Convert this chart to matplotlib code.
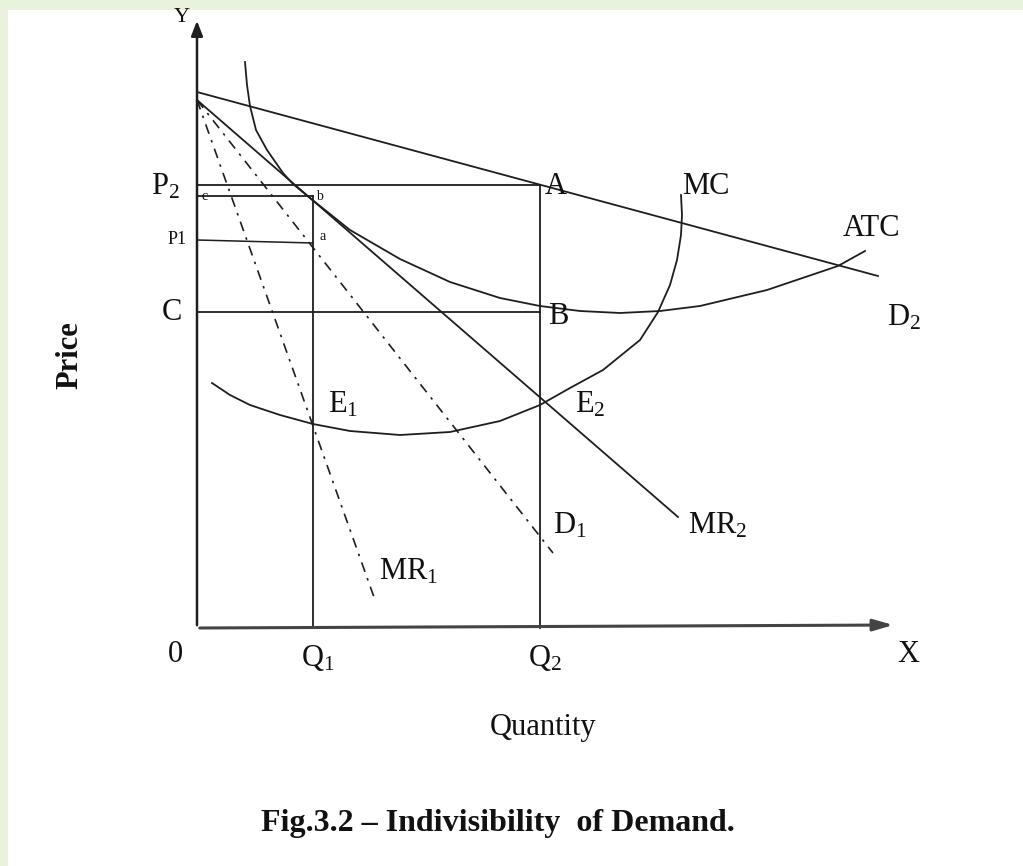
import matplotlib.pyplot as plt
from matplotlib.patches import Rectangle

plt.rcParams['font.family'] = ['Liberation Serif', 'DejaVu Serif']
plt.rcParams['mathtext.fontset'] = 'custom'
plt.rcParams['mathtext.rm'] = 'Liberation Serif'
plt.rcParams['mathtext.it'] = 'Liberation Serif:italic'
plt.rcParams['mathtext.bf'] = 'Liberation Serif:bold'

# chart units: quantity to the right of the origin, price above it
d2_q = [0, 681]
d2_p = [536, 352]
mr2_q = [0, 481]
mr2_p = [528, 111]
d1_q = [0, 356]
d1_p = [528, 75]
mr1_q = [0, 178]
mr1_p = [528, 28]

mc_q = [15, 33, 53, 83, 116, 153, 203, 253, 303, 343, 373, 406, 443, 461, 473, 480, 484, 485, 484]
mc_p = [245, 233, 223, 213, 204, 197, 193, 196, 207, 223, 240, 258, 288, 316, 343, 368, 393, 413, 433]

atc_q = [48, 50, 53, 59, 70, 86, 96, 113, 153, 203, 253, 303, 343, 383, 423, 463, 503, 570, 641, 668]
atc_p = [566, 543, 522, 498, 478, 455, 444, 430, 398, 369, 346, 330, 322, 317, 315, 317, 322, 338,
         362, 377]

q1 = 116
q2 = 343
p2 = 443
pc = 432      # level of point b / c
p1 = 388
p_c = 316     # level of C / B

fig = plt.figure(figsize=(10.23, 8.66), dpi=100)
fig.patch.set_facecolor('#e9f2dc')
fig.patches.append(Rectangle((8 / 1023, 0), 1, (866 - 10) / 866, transform=fig.transFigure,
                             facecolor='white', edgecolor='none', zorder=-10))
ax = fig.add_axes([0, 0, 1, 1])
ax.set_facecolor('none')
ax.set_xlim(-197, 826)
ax.set_ylim(-238, 628)
ax.axis('off')

lc = '#1e1e1e'
lw = 1.3

# axes with arrow heads
ax.annotate('', xy=(0, 610), xytext=(0, 0),
            arrowprops=dict(arrowstyle='-|>,head_width=0.35,head_length=0.9', color=lc, lw=1.8))
ax.annotate('', xy=(699, 3), xytext=(0, 0),
            arrowprops=dict(arrowstyle='-|>,head_width=0.35,head_length=1.2', color='#444444', lw=2.2))

# demand / revenue lines
ax.plot(d2_q, d2_p, color=lc, lw=lw)
ax.plot(mr2_q, mr2_p, color=lc, lw=lw)
ax.plot(d1_q, d1_p, color=lc, lw=1.2, linestyle=(0, (6, 4, 1.5, 4)))
ax.plot(mr1_q, mr1_p, color=lc, lw=1.2, linestyle=(0, (6, 4, 1.5, 4)))

# cost curves
ax.plot(mc_q, mc_p, color=lc, lw=lw, solid_joinstyle='round')
ax.plot(atc_q, atc_p, color=lc, lw=lw, solid_joinstyle='round')

# guide lines
ax.plot([0, q2], [p2, p2], color=lc, lw=lw)
ax.plot([q2, q2], [p2, 0], color=lc, lw=lw)
ax.plot([0, q1], [pc, pc], color=lc, lw=lw)
ax.plot([q1, q1], [pc, 0], color=lc, lw=lw)
ax.plot([0, q1], [p1, p1 - 3], color=lc, lw=1.1)
ax.plot([0, q2], [p_c, p_c], color=lc, lw=lw)

fs = 22
txt = dict(color='#111111', fontsize=fs, va='center', ha='center')
ax.text(-15, 610, 'Y', fontsize=16, color='#111111', ha='center', va='center')
ax.text(-32, 441, 'P$_2$', **txt)
ax.text(-20, 388, 'P1', color='#111111', fontsize=13, va='center', ha='center')
ax.text(-25, 316, 'C', **txt)
ax.text(-22, -27, '0', **txt)
ax.text(8, 432, 'c', color='#111111', fontsize=10, va='center', ha='center')
ax.text(122, 432, 'b', color='#111111', fontsize=10, va='center', ha='center')
ax.text(126, 391, 'a', color='#111111', fontsize=10, va='center', ha='center')
ax.text(359, 442, 'A', **txt)
ax.text(361, 311, 'B', **txt)
ax.text(509, 442, 'MC', **txt)
ax.text(675, 399, 'ATC', **txt)
ax.text(707, 310, 'D$_2$', **txt)
ax.text(146, 223, 'E$_1$', **txt)
ax.text(393, 223, 'E$_2$', **txt)
ax.text(373, 102, 'D$_1$', **txt)
ax.text(521, 102, 'MR$_2$', **txt)
ax.text(212, 56, 'MR$_1$', **txt)
ax.text(121, -30, 'Q$_1$', **txt)
ax.text(348, -30, 'Q$_2$', **txt)
ax.text(711, -27, 'X', **txt)
ax.text(346, -99, 'Quantity', **txt)
ax.text(-127, 273, 'Price', rotation=90, fontweight='bold', **txt)
ax.text(301, -196, 'Fig.3.2 – Indivisibility  of Demand.', fontweight='bold',
        color='#111111', fontsize=23, va='center', ha='center')

fig.savefig('out.png', dpi=100, facecolor=fig.get_facecolor())
